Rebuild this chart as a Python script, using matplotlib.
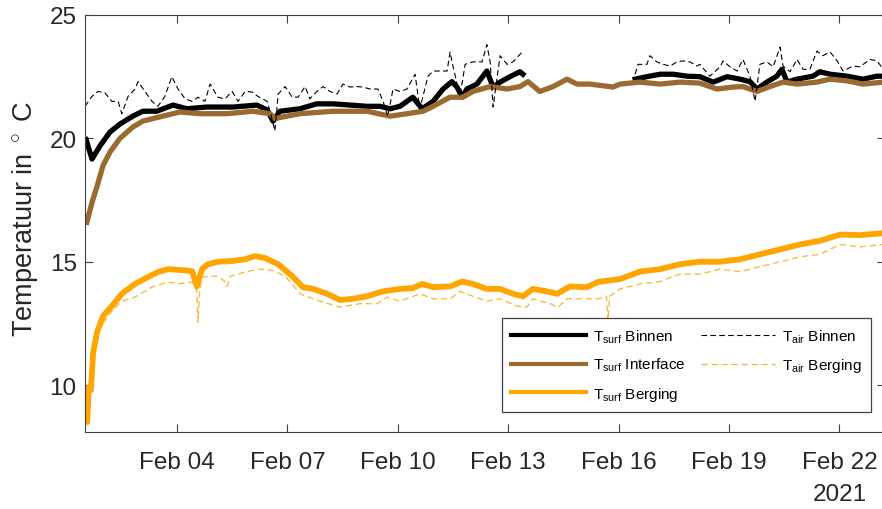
import matplotlib

matplotlib.use("Agg")
import matplotlib.dates as mdates
import matplotlib.pyplot as plt
import numpy as np

START = np.datetime64("2021-02-01T00:00")

# days since Feb 01 00:00, temperatures in deg C
surf_binnen_days = [
    0.53, 0.69, 0.91, 1.18, 1.45, 1.80, 2.07, 2.45, 2.89, 3.27, 3.81, 4.52,
    5.17, 5.45, 5.61, 5.80, 6.34, 6.80, 7.24, 7.70, 8.16, 8.52, 8.79, 9.06,
    9.41, 9.66, 9.96, 10.23, 10.47, 10.61, 10.75, 10.88, 11.15, 11.42, 11.59,
    11.78, 12.05, 12.32, 12.40,
    14.00,
    15.45, 15.77, 16.13, 16.48, 16.86, 17.21, 17.57, 17.95, 18.30, 18.57,
    18.76, 19.03, 19.30, 19.44, 19.58, 19.85, 20.28, 20.47, 20.75, 21.21,
    21.64, 22.02, 22.20,
]
surf_binnen = [
    19.95, 19.16, 19.70, 20.26, 20.58, 20.90, 21.10, 21.10, 21.35, 21.20, 21.27, 21.27,
    21.35, 21.15, 20.70, 21.10, 21.20, 21.40, 21.40, 21.35, 21.30, 21.30, 21.20, 21.30,
    21.67, 21.20, 21.50, 22.00, 22.30, 22.08, 21.67, 22.00, 22.20, 22.73, 22.08,
    22.28, 22.50, 22.70, 22.60,
    np.nan,
    22.40, 22.50, 22.60, 22.60, 22.52, 22.50, 22.28, 22.50, 22.40, 22.30,
    22.00, 22.28, 22.52, 22.80, 22.28, 22.40, 22.52, 22.70, 22.60, 22.52,
    22.40, 22.52, 22.52,
]

surf_interface_days = [
    0.55, 0.69, 0.83, 0.99, 1.18, 1.45, 1.80, 2.07, 2.53, 3.08, 3.62, 4.36,
    5.06, 5.53, 5.66, 5.88, 6.34, 6.80, 7.24, 8.16, 8.79, 9.25, 9.69, 9.96,
    10.42, 10.77, 11.04, 11.51, 11.97, 12.32, 12.54, 12.86, 13.22, 13.60,
    13.87, 14.22, 14.85, 15.04, 15.58, 16.13, 16.67, 17.21, 17.67, 18.11,
    18.38, 18.76, 19.11, 19.47, 19.85, 20.39, 20.75, 21.21, 21.64, 22.20,
]
surf_interface = [
    16.60, 17.40, 18.07, 18.90, 19.45, 20.00, 20.46, 20.70, 20.87, 21.07, 21.00, 21.00,
    21.10, 21.00, 20.80, 20.87, 21.00, 21.05, 21.10, 21.10, 20.90, 21.00, 21.10, 21.30,
    21.67, 21.67, 21.90, 22.10, 22.00, 22.10, 22.30, 21.90, 22.10, 22.40,
    22.20, 22.20, 22.08, 22.20, 22.28, 22.20, 22.28, 22.24, 22.00, 22.08,
    22.10, 21.90, 22.10, 22.28, 22.20, 22.28, 22.40, 22.33, 22.20, 22.28,
]

surf_berging_days = [
    0.53, 0.56, 0.60, 0.66, 0.72, 0.83, 0.99, 1.23, 1.50, 1.86, 2.21, 2.48,
    2.76, 3.14, 3.41, 3.54, 3.68, 3.84, 4.11, 4.50, 4.85, 5.12, 5.39, 5.75,
    6.13, 6.42, 6.70, 7.08, 7.43, 7.78, 8.16, 8.60, 9.06, 9.41, 9.66, 9.96,
    10.42, 10.75, 11.04, 11.42, 11.78, 12.13, 12.40, 12.67, 13.05, 13.33,
    13.68, 14.14, 14.44, 15.04, 15.58, 16.13, 16.67, 17.21, 17.76, 18.30,
    18.84, 19.39, 19.93, 20.47, 21.02, 21.56, 22.20,
]
surf_berging = [
    9.60, 8.50, 9.90, 9.80, 11.30, 12.15, 12.80, 13.20, 13.70, 14.10, 14.38, 14.58,
    14.70, 14.66, 14.62, 14.00, 14.70, 14.90, 15.00, 15.03, 15.10, 15.23, 15.15, 14.90,
    14.42, 13.97, 13.90, 13.70, 13.45, 13.50, 13.60, 13.80, 13.90, 13.93, 14.10, 13.97,
    14.00, 14.20, 14.10, 13.90, 13.90, 13.70, 13.60, 13.90, 13.80, 13.70,
    14.00, 13.97, 14.18, 14.30, 14.60, 14.70, 14.90, 15.00, 15.00, 15.10,
    15.30, 15.50, 15.70, 15.85, 16.10, 16.08, 16.16,
]

air_binnen_days = [
    0.50, 0.69, 0.85, 1.04, 1.23, 1.40, 1.50, 1.67, 1.86, 1.94, 2.13, 2.32,
    2.48, 2.67, 2.86, 3.03, 3.22, 3.41, 3.57, 3.76, 3.90, 4.11, 4.30, 4.50,
    4.66, 4.85, 5.04, 5.20, 5.45, 5.58, 5.66, 5.75, 5.94, 6.13, 6.29, 6.48,
    6.61, 6.80, 6.97, 7.16, 7.35, 7.51, 7.70, 7.89, 8.05, 8.25, 8.46, 8.60,
    8.73, 8.87, 9.06, 9.25, 9.47, 9.60, 9.82, 9.96, 10.15, 10.34, 10.42,
    10.50, 10.69, 10.83, 11.04, 11.29, 11.42, 11.51, 11.59, 11.78, 11.97,
    12.13, 12.38,
    14.00,
    15.45, 15.53, 15.77, 15.85, 16.04, 16.21, 16.40, 16.59, 16.75, 16.94,
    17.13, 17.21, 17.48, 17.76, 17.84, 18.03, 18.22, 18.38, 18.57, 18.71,
    18.84, 19.03, 19.20, 19.39, 19.47, 19.66, 19.85, 20.01, 20.20, 20.39,
    20.55, 20.75, 20.94, 21.10, 21.37, 21.56, 21.83, 22.02, 22.20,
]
air_binnen = [
    21.30, 21.70, 21.90, 21.85, 21.50, 21.50, 21.00, 21.70, 22.00, 22.30, 21.90, 21.50,
    21.30, 21.70, 22.50, 22.00, 21.60, 21.50, 21.67, 21.50, 22.20, 21.67, 21.60, 21.90,
    21.50, 21.90, 21.88, 21.70, 21.50, 20.80, 20.30, 21.80, 22.10, 21.67, 21.67, 22.10,
    21.60, 21.90, 22.10, 21.90, 21.80, 22.20, 22.08, 22.10, 22.08, 22.00, 22.00, 21.50,
    20.90, 22.00, 21.90, 22.00, 22.60, 21.20, 22.52, 22.73, 22.73, 22.73, 23.50,
    22.93, 21.70, 23.00, 23.10, 23.10, 23.80, 23.10, 21.27, 23.35, 23.00,
    23.10, 23.50,
    np.nan,
    22.60, 23.00, 23.00, 23.35, 23.10, 23.00, 22.93, 23.10, 23.14, 23.10,
    22.93, 23.00, 22.52, 22.90, 23.14, 22.90, 22.73, 23.20, 22.52, 21.50,
    23.00, 23.10, 22.90, 23.70, 22.93, 22.70, 23.20, 22.80, 22.80, 23.54,
    23.35, 23.50, 23.14, 22.73, 22.93, 22.90, 23.20, 23.14, 22.80,
]

air_berging_days = [
    0.99, 1.23, 1.50, 1.86, 2.32, 2.76, 3.03, 3.41, 3.54, 3.57, 3.62, 3.68,
    4.11, 4.30, 4.36, 4.45, 4.85, 5.20, 5.58, 5.94, 6.29, 6.34, 6.89, 7.43,
    7.97, 8.44, 8.71, 9.06, 9.60, 9.96, 10.42, 10.69, 11.04, 11.42, 11.78,
    12.24, 12.51, 12.67, 13.14, 13.35, 13.60, 14.03, 14.44, 14.67, 14.71,
    14.76, 15.04, 15.58, 16.13, 16.67, 17.21, 17.76, 18.30, 18.84, 19.39,
    19.93, 20.47, 21.02, 21.56, 22.20,
]
air_berging = [
    12.50, 13.00, 13.40, 13.57, 13.97, 14.18, 14.10, 14.18, 13.80, 12.55, 13.80, 14.38,
    14.42, 14.20, 14.00, 14.42, 14.58, 14.70, 14.66, 14.42, 13.80, 13.70, 13.40, 13.16,
    13.30, 13.30, 13.57, 13.40, 13.70, 13.50, 13.50, 13.80, 13.60, 13.40, 13.50,
    13.20, 13.16, 13.50, 13.30, 13.16, 13.50, 13.50, 13.50, 13.60, 12.60,
    13.60, 13.90, 14.10, 14.20, 14.50, 14.50, 14.70, 14.60, 14.80, 15.00,
    15.20, 15.30, 15.70, 15.60, 15.70,
]

y_ticks = [10, 15, 20, 25]


def to_time(days):
    minutes = np.round(np.asarray(days) * 1440).astype("timedelta64[m]")
    return START + minutes


plt.rcParams["font.family"] = ["Liberation Sans", "DejaVu Sans"]
plt.rcParams["mathtext.fontset"] = "custom"
plt.rcParams["mathtext.rm"] = "Liberation Sans"
plt.rcParams["mathtext.it"] = "Liberation Sans:italic"

axis_grey = "#404040"
brown = "#9a6a30"
orange = "#ffa500"
orange_dash = "#f4b630"

fig = plt.figure(figsize=(8.82, 5.10), dpi=100)
ax = fig.add_axes([85 / 882, 77 / 510, 800 / 882, 417 / 510])

ax.plot(to_time(surf_binnen_days), surf_binnen, color="black", lw=3.8,
        label=r"$\mathrm{T_{surf}}$ Binnen")
ax.plot(to_time(surf_interface_days), surf_interface, color=brown, lw=3.8,
        label=r"$\mathrm{T_{surf}}$ Interface")
ax.plot(to_time(surf_berging_days), surf_berging, color=orange, lw=4.2,
        label=r"$\mathrm{T_{surf}}$ Berging")
ax.plot(to_time(air_binnen_days), air_binnen, color="black", lw=0.8,
        ls=(0, (5, 3)), label=r"$\mathrm{T_{air}}$ Binnen")
ax.plot(to_time(air_berging_days), air_berging, color=orange_dash, lw=0.9,
        ls=(0, (5, 3)), label=r"$\mathrm{T_{air}}$ Berging")

ax.set_xlim(to_time([0.5])[0], to_time([22.24])[0])
ax.set_ylim(8.1, 25)
ax.set_yticks(y_ticks)
ax.xaxis.set_major_locator(mdates.DayLocator(bymonthday=[4, 7, 10, 13, 16, 19, 22]))
ax.xaxis.set_major_formatter(mdates.DateFormatter("%b %d"))

for spine in ax.spines.values():
    spine.set_color(axis_grey)
    spine.set_linewidth(0.8)
ax.tick_params(direction="in", length=6, width=0.8, color=axis_grey,
               labelsize=17.5, labelcolor="#262626", top=True, right=True)
ax.tick_params(axis="x", pad=14)
ax.tick_params(axis="y", pad=6)

fig.text(25 / 882, 1 - 219 / 510, r"Temperatuur in $^\circ$ C", rotation=90,
         ha="center", va="center", fontsize=19.5, color="#262626")
fig.text(840 / 882, 1 - 495 / 510, "2021", ha="center", va="center",
         fontsize=17.5, color="#262626")

leg = ax.legend(ncol=2, loc="lower right", bbox_to_anchor=(871 / 882, 1 - 413 / 510),
                bbox_transform=fig.transFigure, borderaxespad=0, fontsize=11,
                fancybox=False, handlelength=4.9, handletextpad=0.45,
                columnspacing=1.0, labelspacing=0.75, borderpad=0.6, framealpha=1)
leg.get_frame().set_edgecolor(axis_grey)
leg.get_frame().set_linewidth(0.9)
for line in leg.get_lines()[:3]:
    line.set_linewidth(3.0)

fig.savefig("out.png", dpi=100)
